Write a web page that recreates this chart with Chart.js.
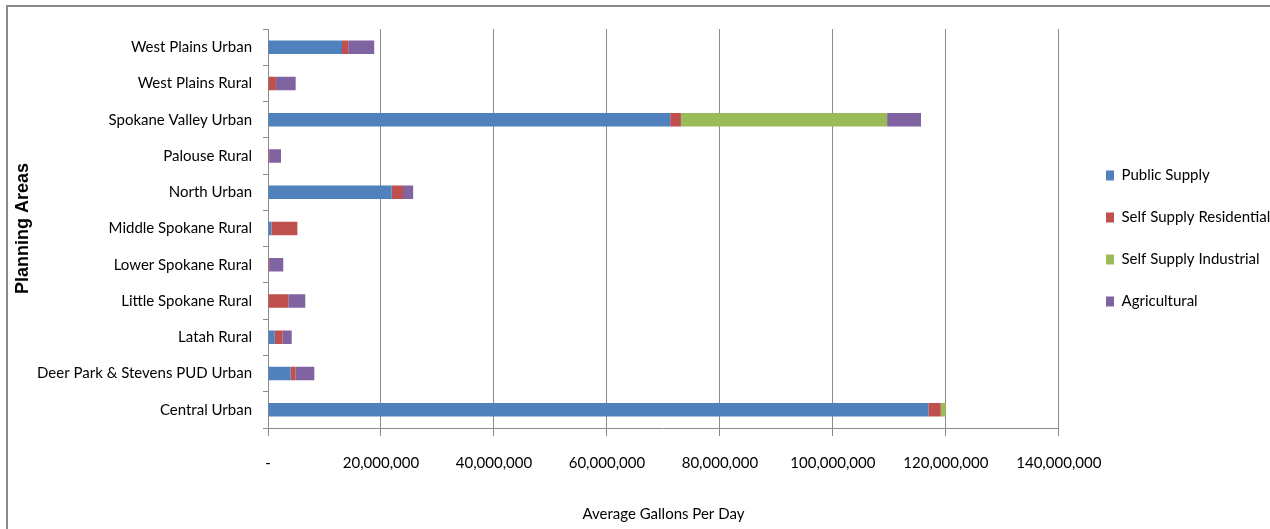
<!DOCTYPE html>
<html>
<head>
<meta charset="utf-8">
<script src="https://cdn.jsdelivr.net/npm/chart.js@4.4.1/dist/chart.umd.min.js"></script>
<style>
  html, body { margin: 0; padding: 0; background: #fff; }
  #wrap { position: relative; width: 1270px; height: 529px; }
</style>
</head>
<body>
<div id="wrap"><canvas id="c" width="1270" height="529"></canvas></div>
<script>
// Planning areas, listed top to bottom
const areas = [
  'West Plains Urban',
  'West Plains Rural',
  'Spokane Valley Urban',
  'Palouse Rural',
  'North Urban',
  'Middle Spokane Rural',
  'Lower Spokane Rural',
  'Little Spokane Rural',
  'Latah Rural',
  'Deer Park & Stevens PUD Urban',
  'Central Urban'
];

// Average gallons per day by water use type
const publicSupply          = [13100000, 0, 71200000, 0, 21900000, 600000, 0, 0, 1200000, 4000000, 116900000];
const selfSupplyResidential = [1100000, 1400000, 1900000, 200000, 2000000, 4600000, 200000, 3600000, 1400000, 900000, 2200000];
const selfSupplyIndustrial  = [0, 0, 36500000, 0, 0, 0, 0, 0, 0, 0, 900000];
const agricultural          = [4600000, 3500000, 6000000, 2100000, 1800000, 0, 2500000, 3000000, 1600000, 3300000, 0];

const seriesNames = ['Public Supply', 'Self Supply Residential', 'Self Supply Industrial', 'Agricultural'];
const seriesColors = ['#4F81BD', '#C0504D', '#9BBB59', '#8064A2'];

// x axis range and tick step
const axisMin = 0;
const axisMax = 140000000;
const axisStep = 20000000;

const FONT = 'Lato, "Liberation Sans Narrow", sans-serif';
const GRID = '#8a8a8a';

// Outer frame of the chart object
const framePlugin = {
  id: 'frame',
  beforeDraw(chart) {
    const ctx = chart.ctx;
    ctx.save();
    ctx.strokeStyle = '#8c8c8c';
    ctx.lineWidth = 2;
    ctx.beginPath();
    ctx.moveTo(7, chart.height + 5);
    ctx.lineTo(7, 6);
    ctx.lineTo(chart.width + 5, 6);
    ctx.stroke();
    ctx.restore();
  }
};

// Place the legend entries to the right of the plot, level with the middle rows
const legendPlacePlugin = {
  id: 'legendPlace',
  afterLayout(chart) {
    const lg = chart.legend;
    if (!lg) return;
    const dx = 1106 - (lg.left + lg.options.labels.padding);
    lg.left += dx;
    lg.right += dx;
    const dy = 10;
    lg.top += dy;
    lg.bottom += dy;
  }
};

const datasets = [publicSupply, selfSupplyResidential, selfSupplyIndustrial, agricultural].map((vals, i) => ({
  label: seriesNames[i],
  data: vals,
  backgroundColor: seriesColors[i],
  borderWidth: 0,
  categoryPercentage: 0.8,
  barPercentage: 0.465
}));

new Chart(document.getElementById('c'), {
  type: 'bar',
  data: { labels: areas, datasets },
  plugins: [framePlugin, legendPlacePlugin],
  options: {
    indexAxis: 'y',
    responsive: false,
    animation: false,
    devicePixelRatio: 1,
    layout: { padding: { top: 29, left: 0, right: 10, bottom: 0 } },
    plugins: {
      tooltip: { enabled: false },
      legend: {
        position: 'right',
        align: 'center',
        fullSize: false,
        labels: {
          boxWidth: 8,
          boxHeight: 10,
          padding: 27,
          color: '#000',
          font: { family: FONT, size: 15 }
        }
      }
    },
    scales: {
      x: {
        stacked: true,
        min: axisMin,
        max: axisMax,
        afterFit(scale) { scale.height = 101; },
        ticks: {
          stepSize: axisStep,
          padding: 18,
          color: '#000',
          maxRotation: 0,
          autoSkip: false,
          font: { family: FONT, size: 15 },
          callback: (v) => v === 0 ? '-' : Number(v).toLocaleString('en-US')
        },
        grid: { color: GRID, lineWidth: 1, tickLength: 8, drawOnChartArea: true },
        border: { color: GRID, width: 1 },
        title: {
          display: true,
          text: 'Average Gallons Per Day',
          color: '#000',
          padding: { top: 0, bottom: 6 },
          font: { family: FONT, size: 15 }
        }
      },
      y: {
        stacked: true,
        afterFit(scale) { scale.width = 268; },
        ticks: {
          padding: 11,
          color: '#000',
          font: { family: FONT, size: 15 }
        },
        grid: { color: GRID, lineWidth: 1, tickLength: 5, drawOnChartArea: false, offset: true },
        border: { color: GRID, width: 1 },
        title: {
          display: true,
          text: 'Planning Areas',
          color: '#000',
          padding: { top: 12, bottom: 0 },
          font: { family: '"Liberation Sans", Arial, sans-serif', size: 18, weight: 'bold' }
        }
      }
    }
  }
});
</script>
</body>
</html>
